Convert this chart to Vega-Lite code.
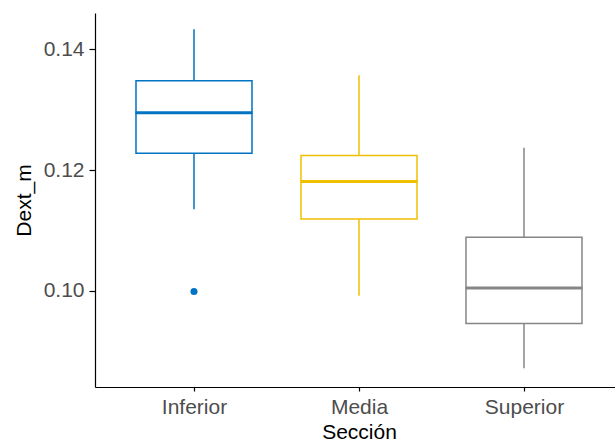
{
  "$schema": "https://vega.github.io/schema/vega-lite/v6.json",
  "autosize": "none",
  "width": 520,
  "height": 374,
  "padding": {"left": 95, "top": 13, "right": 0, "bottom": 56},
  "background": "white",
  "config": {"view": {"stroke": null}, "font": "Liberation Sans"},
  "datasets": {
    "stats": [
      {"Seccion": "Inferior", "lower": 0.1135, "q1": 0.1228, "median": 0.1295, "q3": 0.1348, "upper": 0.1433},
      {"Seccion": "Media", "lower": 0.0992, "q1": 0.1119, "median": 0.1181, "q3": 0.1224, "upper": 0.1357},
      {"Seccion": "Superior", "lower": 0.0872, "q1": 0.0946, "median": 0.1005, "q3": 0.1089, "upper": 0.1237}
    ],
    "outliers": [
      {"Seccion": "Inferior", "Dext_m": 0.0999}
    ]
  },
  "encoding": {
    "x": {
      "field": "Seccion", "type": "nominal", "title": "Sección",
      "scale": {"type": "point", "padding": 0.5758, "align": 0.521, "domain": ["Inferior", "Media", "Superior"]},
      "axis": {
        "domainColor": "#000000", "domainWidth": 1.2, "tickColor": "#000000", "tickWidth": 1.2, "tickSize": 4,
        "labelColor": "#4D4D4D", "labelFontSize": 21, "labelPadding": 5, "labelAngle": 0,
        "titleColor": "#000000", "titleFontSize": 21, "titleFontWeight": "normal", "titlePadding": 4,
        "titleX": 264, "grid": false
      }
    },
    "color": {
      "field": "Seccion", "type": "nominal", "legend": null,
      "scale": {"domain": ["Inferior", "Media", "Superior"], "range": ["#0073C2", "#EFC000", "#868686"]}
    }
  },
  "layer": [
    {
      "data": {"name": "stats"},
      "mark": {"type": "rule", "strokeWidth": 1.5},
      "encoding": {
        "y": {
          "field": "lower", "type": "quantitative", "title": "Dext_m",
          "scale": {"domain": [0.0841, 0.146], "nice": false, "zero": false},
          "axis": {
            "values": [0.10, 0.12, 0.14], "format": ".2f", "grid": false,
            "domainColor": "#000000", "domainWidth": 1.2, "tickColor": "#000000", "tickWidth": 1.2, "tickSize": 6,
            "labelColor": "#4D4D4D", "labelFontSize": 21, "labelPadding": 5,
            "titleColor": "#000000", "titleFontSize": 21, "titleFontWeight": "normal", "titleX": -61
          }
        },
        "y2": {"field": "upper"}
      }
    },
    {
      "data": {"name": "stats"},
      "mark": {"type": "bar", "width": 116, "fill": "white", "strokeWidth": 1.5},
      "encoding": {
        "y": {"field": "q1", "type": "quantitative", "title": "Dext_m"},
        "y2": {"field": "q3"},
        "stroke": {
          "field": "Seccion", "type": "nominal", "legend": null,
          "scale": {"domain": ["Inferior", "Media", "Superior"], "range": ["#0073C2", "#EFC000", "#868686"]}
        },
        "color": {"value": "white"}
      }
    },
    {
      "data": {"name": "stats"},
      "mark": {"type": "tick", "size": 117, "thickness": 3, "opacity": 1},
      "encoding": {
        "y": {"field": "median", "type": "quantitative", "title": "Dext_m"}
      }
    },
    {
      "data": {"name": "outliers"},
      "mark": {"type": "circle", "size": 50, "opacity": 1},
      "encoding": {
        "y": {"field": "Dext_m", "type": "quantitative", "title": "Dext_m"}
      }
    }
  ]
}
